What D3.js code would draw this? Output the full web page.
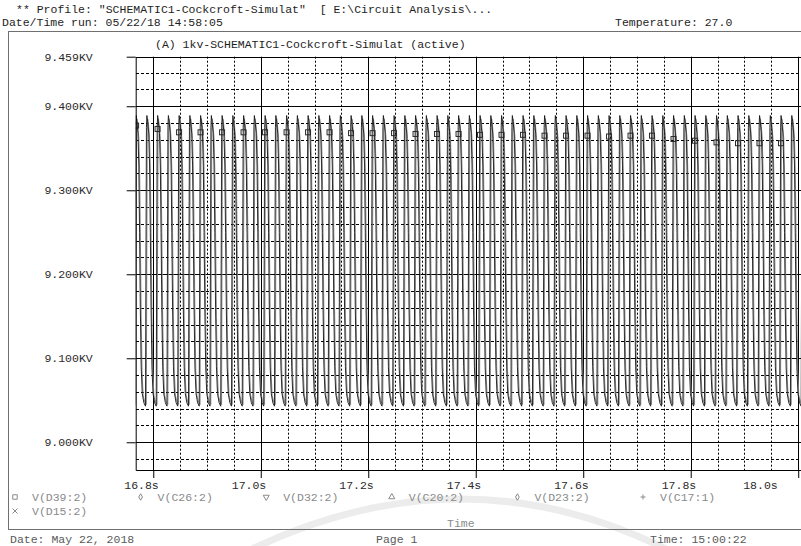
<!DOCTYPE html>
<html>
<head>
<meta charset="utf-8">
<script src="https://cdn.jsdelivr.net/npm/d3@7"></script>
<style>
  body { margin: 0; background: #fff; }
  text { font-family: "Liberation Mono", "DejaVu Sans Mono", monospace; font-size: 11.5px; white-space: pre; }
</style>
</head>
<body>
<div id="container"></div>
<script>
// Axis ticks
const xTicks = [16.8, 17.0, 17.2, 17.4, 17.6, 17.8, 18.0];
const xTickLabels = ['16.8s', '17.0s', '17.2s', '17.4s', '17.6s', '17.8s', '18.0s'];
const yTicks = [9.0, 9.1, 9.2, 9.3, 9.4, 9.459];
const yTickLabels = ['9.000KV', '9.100KV', '9.200KV', '9.300KV', '9.400KV', '9.459KV'];

// Traces listed in the legend
const seriesNames = ['V(D39:2)', 'V(C26:2)', 'V(D32:2)', 'V(C20:2)', 'V(D23:2)', 'V(C17:1)', 'V(D15:2)'];
const seriesSymbols = ['square', 'diamond', 'triDown', 'triUp', 'diamond', 'plus', 'cross'];

// One 50 Hz cycle of the ripple (phase 0..1 of a period)
const period = 0.02;
const firstRise = 16.7655;
const cyclePhase = [0, 0.04, 0.09, 0.13, 0.2, 0.3, 0.38, 0.45, 0.52, 0.6, 0.7, 0.85, 1];
const blackKV = [9.043, 9.2, 9.375, 9.389, 9.382, 9.368, 9.33, 9.25, 9.16, 9.09, 9.058, 9.047, 9.043];
const grayKV = [9.045, 9.21, 9.37, 9.385, 9.378, 9.362, 9.32, 9.24, 9.15, 9.085, 9.056, 9.048, 9.045];
const grayLag = 0.0016;

// Square markers on V(D39:2), one every 0.04 s
const markerStart = 16.768;
const markerStep = 0.04;
const markerKV = [9.377, 9.373, 9.369, 9.369, 9.369, 9.369, 9.369, 9.369,
  9.369, 9.369, 9.368, 9.368, 9.368, 9.367, 9.367, 9.367, 9.366, 9.366,
  9.366, 9.365, 9.365, 9.365, 9.364, 9.365, 9.365, 9.361, 9.359, 9.357,
  9.356, 9.356, 9.356];

const W = 801, H = 546;
const svg = d3.select('#container').append('svg')
  .attr('width', W)
  .attr('height', H);

const x = d3.scaleLinear().domain([16.7673, 18.0052]).range([135.7, 801]);
const y = d3.scaleLinear().domain([8.967, 9.459]).range([470, 56.7]);

// faint watermark swoosh at the bottom
svg.append('path')
  .attr('d', 'M250,550 Q462,448 668,550')
  .attr('fill', 'none')
  .attr('stroke', '#ececec')
  .attr('stroke-width', 7);

// header
const header = svg.append('g').attr('fill', '#1e1e1e');
header.append('text').attr('x', 16).attr('y', 13)
  .text('** Profile: "SCHEMATIC1-Cockcroft-Simulat"  [ E:\\Circuit Analysis\\...');
header.append('text').attr('x', 2).attr('y', 26)
  .text('Date/Time run: 05/22/18 14:58:05');
header.append('text').attr('x', 615).attr('y', 26)
  .text('Temperature: 27.0');

// outer frame
svg.append('rect')
  .attr('x', 8.5).attr('y', 31.5)
  .attr('width', 800).attr('height', 498)
  .attr('fill', 'none')
  .attr('stroke', '#707070');

svg.append('text').attr('x', 155).attr('y', 48).attr('fill', '#1e1e1e')
  .text('(A) 1kv-SCHEMATIC1-Cockcroft-Simulat (active)');

// grid
const grid = svg.append('g').attr('stroke', '#000').attr('stroke-width', 1);
const px = v => Math.round(x(v)) + 0.5;
const py = v => Math.round(y(v)) + 0.5;

const xMinor = d3.range(16.85, 18.0, 0.05).filter(v => Math.abs(v * 5 - Math.round(v * 5)) > 1e-6);
const yMinor = d3.range(8.98, 9.45, 0.02).filter(v => Math.abs(v * 10 - Math.round(v * 10)) > 1e-6);

grid.selectAll('.xminor').data(xMinor).join('line')
  .attr('x1', px).attr('x2', px)
  .attr('y1', y.range()[1]).attr('y2', y.range()[0])
  .attr('stroke-dasharray', '2,2');

grid.selectAll('.yminor').data(yMinor).join('line')
  .attr('x1', 136).attr('x2', W)
  .attr('y1', py).attr('y2', py)
  .attr('stroke-dasharray', '3,2');

grid.selectAll('.xmajor').data(xTicks).join('line')
  .attr('x1', px).attr('x2', px)
  .attr('y1', y.range()[1]).attr('y2', y.range()[0]);

grid.selectAll('.ymajor').data(yTicks).join('line')
  .attr('x1', 136).attr('x2', W)
  .attr('y1', py).attr('y2', py);

// traces
svg.append('clipPath').attr('id', 'plot')
  .append('rect')
  .attr('x', 135.7).attr('y', 56.7)
  .attr('width', W - 135.7).attr('height', 470 - 56.7);

function buildTrace(levels, lag) {
  const pts = [];
  const n = Math.ceil((x.domain()[1] - firstRise) / period) + 1;
  for (let c = 0; c < n; c++) {
    cyclePhase.forEach((p, k) => {
      if (k === cyclePhase.length - 1 && c < n - 1) return;
      pts.push([firstRise + lag + (c + p) * period, levels[k]]);
    });
  }
  return pts;
}

const line = d3.line().x(d => x(d[0])).y(d => y(d[1]));
const traces = svg.append('g').attr('clip-path', 'url(#plot)').attr('fill', 'none');

traces.append('path')
  .attr('d', line(buildTrace(grayKV, grayLag)))
  .attr('stroke', '#8c8c8c')
  .attr('stroke-width', 1);

traces.append('path')
  .attr('d', line(buildTrace(blackKV, 0)))
  .attr('stroke', '#151515')
  .attr('stroke-width', 0.9);

traces.selectAll('rect.mark').data(markerKV).join('rect')
  .attr('x', (d, i) => x(markerStart + i * markerStep) - 2.5)
  .attr('y', d => y(d) - 2.5)
  .attr('width', 5).attr('height', 5)
  .attr('stroke', '#2a2a2a')
  .attr('stroke-width', 1);

// axes
const xAxis = svg.append('g')
  .attr('transform', 'translate(0,470)')
  .call(d3.axisBottom(x).tickValues(xTicks).tickSize(8).tickSizeOuter(0).tickPadding(3)
    .tickFormat((d, i) => xTickLabels[i]));
xAxis.attr('font-family', null).attr('font-size', null);
xAxis.select('.domain').attr('stroke', '#000');
xAxis.selectAll('text')
  .attr('fill', '#2a2a2a')
  .attr('text-anchor', 'end')
  .attr('dx', (d, i) => i === xTicks.length - 1 ? -21 : 5);

const yAxis = svg.append('g')
  .attr('transform', 'translate(135.7,0)')
  .call(d3.axisLeft(y).tickValues(yTicks).tickSize(9).tickSizeOuter(0).tickPadding(34)
    .tickFormat((d, i) => yTickLabels[i]));
yAxis.attr('font-family', null).attr('font-size', null);
yAxis.select('.domain').attr('stroke', '#000');
yAxis.selectAll('text').attr('fill', '#2a2a2a');

// legend
const symbolPath = {
  square: d3.symbol(d3.symbolSquare, 20)(),
  diamond: d3.symbol(d3.symbolDiamond, 12)(),
  triUp: d3.symbol(d3.symbolTriangle, 16)(),
  triDown: d3.symbol(d3.symbolTriangle, 16)(),
  plus: 'M-2.5,0H2.5M0,-2.5V2.5',
  cross: 'M-2.5,-2.5L2.5,2.5M-2.5,2.5L2.5,-2.5'
};

const legend = svg.append('g').attr('fill', '#8a8a8a');
seriesNames.forEach((name, i) => {
  const row = i < 6 ? 0 : 1;
  const col = i < 6 ? i : 0;
  const lx = 15 + col * 125.6;
  const ly = 497 + row * 14;
  const sym = seriesSymbols[i];
  legend.append('path')
    .attr('d', symbolPath[sym])
    .attr('transform', `translate(${lx},${ly})` + (sym === 'triDown' ? ' rotate(180)' : ''))
    .attr('fill', 'none')
    .attr('stroke', '#8a8a8a');
  legend.append('text').attr('x', lx + 17).attr('y', ly + 4).text(name);
});

svg.append('text').attr('x', 447).attr('y', 527).attr('fill', '#8a8a8a').text('Time');

// footer
const footer = svg.append('g').attr('fill', '#5a5a5a');
footer.append('text').attr('x', 10).attr('y', 543).text('Date: May 22, 2018');
footer.append('text').attr('x', 376).attr('y', 543).text('Page 1');
footer.append('text').attr('x', 650).attr('y', 543).text('Time: 15:00:22');
</script>
</body>
</html>
